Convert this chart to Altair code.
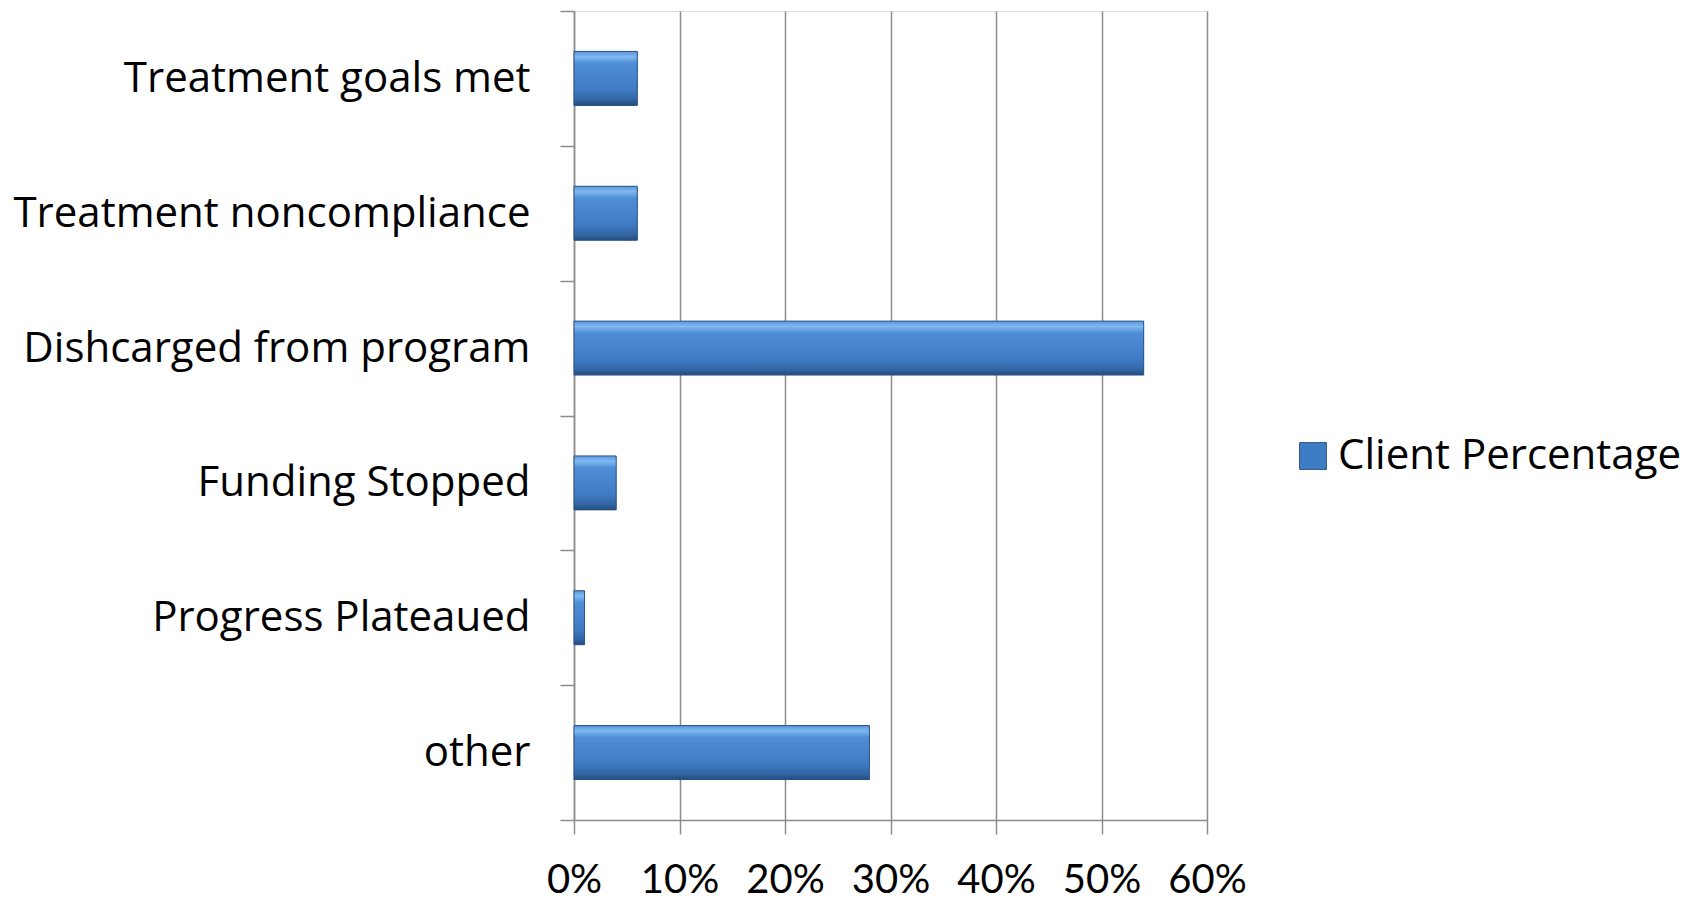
import altair as alt
import pandas as pd

# Reasons for leaving treatment, share of clients
reasons = [
    "Treatment goals met",
    "Treatment noncompliance",
    "Dishcarged from program",
    "Funding Stopped",
    "Progress Plateaued",
    "other",
]
shares = [0.06, 0.06, 0.54, 0.04, 0.01, 0.28]
series_name = "Client Percentage"
x_ticks = [0, 0.1, 0.2, 0.3, 0.4, 0.5, 0.6]

df = pd.DataFrame({"reason": reasons, "share": shares, "series": series_name})

LABEL_FONT = "Open Sans"
NUM_FONT = "Lato"
GRID = "#8c8c8c"

y_enc = alt.Y(
    "reason:N",
    sort=reasons,
    scale=alt.Scale(paddingInner=0, paddingOuter=0),
    axis=alt.Axis(
        title=None,
        tickBand="extent",
        tickSize=14,
        tickColor=GRID,
        tickWidth=1.5,
        domainColor=GRID,
        domainWidth=1.5,
        labelFont=LABEL_FONT,
        labelFontSize=42,
        labelColor="black",
        labelPadding=30,
        labelLimit=700,
        grid=False,
    ),
)
x_enc = alt.X(
    "share:Q",
    scale=alt.Scale(domain=[0, 0.6], nice=False),
    axis=alt.Axis(
        title=None,
        values=x_ticks,
        format=".0%",
        grid=True,
        gridColor=GRID,
        gridWidth=1.5,
        tickSize=14,
        tickColor=GRID,
        tickWidth=1.5,
        domainColor=GRID,
        domainWidth=1.5,
        labelFont=NUM_FONT,
        labelFontSize=40,
        labelColor="black",
        labelPadding=26,
        labelOverlap=False,
        labelFlush=False,
    ),
)

BAR_BAND = {"band": 0.4}

# flat bars carry the legend entry
base_bars = alt.Chart(df).mark_bar(height=BAR_BAND).encode(
    y=y_enc,
    x=x_enc,
    color=alt.Color(
        "series:N",
        scale=alt.Scale(range=["#3f7cc6"]),
        legend=alt.Legend(
            title=None,
            orient="none",
            legendX=718,
            legendY=424,
            symbolType="square",
            symbolSize=720,
            symbolStrokeColor="#2c5585",
            symbolStrokeWidth=1,
            labelFont=LABEL_FONT,
            labelFontSize=42,
            labelColor="black",
            labelLimit=600,
        ),
    ),
)

# bevelled gradient face drawn over them
bevel = alt.Gradient(
    gradient="linear",
    x1=0, x2=0, y1=0, y2=1,
    stops=[
        alt.GradientStop(offset=0, color="#5a98de"),
        alt.GradientStop(offset=0.1, color="#80b8f0"),
        alt.GradientStop(offset=0.22, color="#4f8dd6"),
        alt.GradientStop(offset=0.7, color="#407cc6"),
        alt.GradientStop(offset=0.9, color="#3265a3"),
        alt.GradientStop(offset=1, color="#244b7d"),
    ],
)
face_bars = alt.Chart(df).mark_bar(
    height=BAR_BAND, color=bevel, stroke="#2a5282", strokeWidth=1
).encode(y=alt.Y("reason:N", sort=reasons), x="share:Q")

chart = (
    alt.layer(base_bars, face_bars)
    .properties(
        width=633,
        height=809,
        autosize=alt.AutoSizeParams(type="none"),
        padding={"left": 574, "top": 11, "right": 495, "bottom": 82},
    )
    .configure_view(strokeWidth=0)
    .configure(background="white")
)

chart.save("out.html", embed_options={"renderer": "svg", "actions": False})
